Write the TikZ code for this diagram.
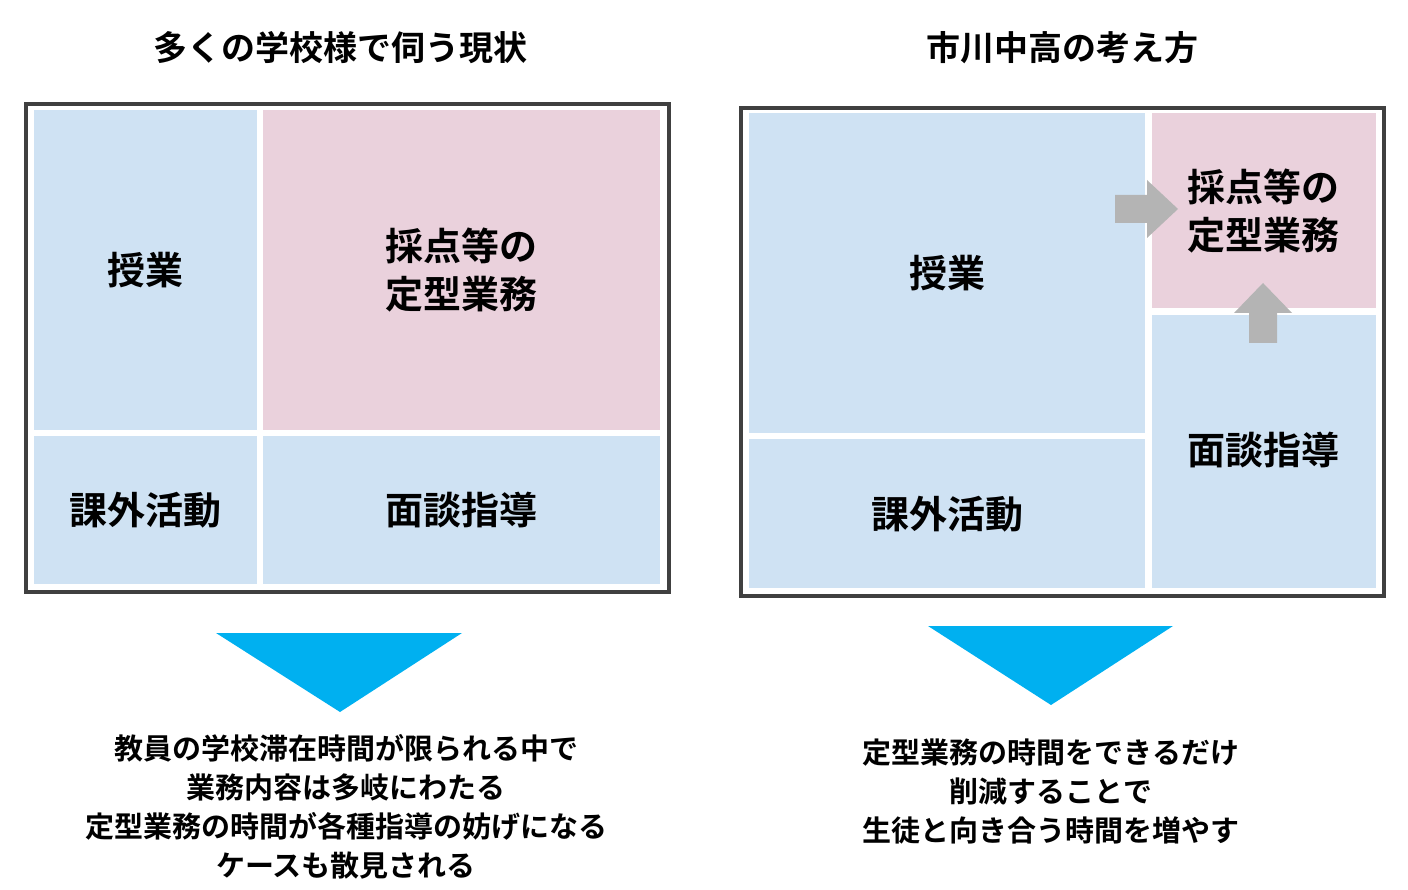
\documentclass[tikz,border=0pt]{standalone}
\usepackage{fontspec}
\newfontfamily\jp{Noto Sans CJK JP Bold}
\definecolor{cb}{HTML}{CFE2F3}
\definecolor{cp}{HTML}{EAD1DC}
\definecolor{fr}{HTML}{404040}
\definecolor{cy}{HTML}{00B0F0}
\definecolor{ga}{HTML}{B4B4B4}
\tikzset{frame/.style={draw=fr,line width=3.5pt},
title/.style={font=\jp\fontsize{34}{40}\selectfont},
lab/.style={font=\jp\fontsize{38}{48}\selectfont,align=left},
note/.style={font=\jp\fontsize{29}{39}\selectfont,align=center}}
\begin{document}
\begin{tikzpicture}[x=1pt,y=-1pt]
\useasboundingbox (0,0) rectangle (1408,890);
\node[title] (t1) at (340,48) {多くの学校様で伺う現状};
\node[title] (t2) at (1062,48) {市川中高の考え方};
% left
\draw[frame] (26,104) rectangle (669,592);
\fill[cb] (34,110) rectangle (257,430);
\fill[cp] (263,110) rectangle (660,430);
\fill[cb] (34,436) rectangle (257,584);
\fill[cb] (263,436) rectangle (660,584);
\node[lab] (a1) at (145,270) {授業};
\node[lab] (a2) at (461,270) {採点等の\\定型業務};
\node[lab] (a3) at (145,510) {課外活動};
\node[lab] (a4) at (461,510) {面談指導};
% right
\draw[frame] (741,108) rectangle (1384,596);
\fill[cb] (749,113) rectangle (1145,433);
\fill[cb] (749,439) rectangle (1145,588);
\fill[cp] (1152,113) rectangle (1376,308);
\fill[cb] (1152,315) rectangle (1376,588);
\node[lab] (b1) at (947,273) {授業};
\node[lab] (b3) at (947,514) {課外活動};
\node[lab] (b2) at (1263,211) {採点等の\\定型業務};
\node[lab] (b4) at (1263,450) {面談指導};
\fill[ga] (1115,195) -- (1147,195) -- (1147,180) -- (1178,209) -- (1147,238) -- (1147,223) -- (1115,223) -- cycle;
\fill[ga] (1249,343) -- (1249,313) -- (1234,313) -- (1263,283) -- (1292,313) -- (1277,313) -- (1277,343) -- cycle;
% triangles
\fill[cy] (216,633) -- (462,633) -- (340,712) -- cycle;
\fill[cy] (928,626) -- (1173,626) -- (1051,705) -- cycle;
\node[note] (n1) at (346,807) {教員の学校滞在時間が限られる中で\\業務内容は多岐にわたる\\定型業務の時間が各種指導の妨げになる\\ケースも散見される};
\node[note] (n2) at (1051,792) {定型業務の時間をできるだけ\\削減することで\\生徒と向き合う時間を増やす};
\end{tikzpicture}
\end{document}
